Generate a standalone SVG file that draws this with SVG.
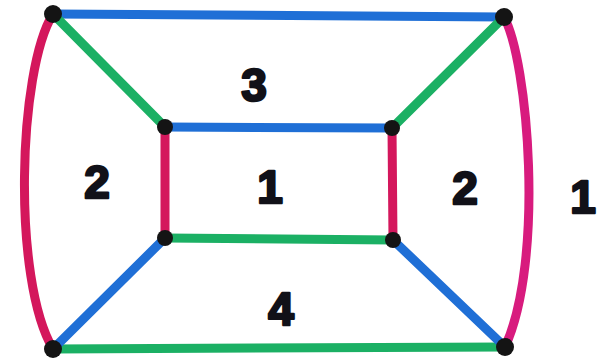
<svg xmlns="http://www.w3.org/2000/svg" width="603" height="361" viewBox="0 0 603 361">
<style>
.e{fill:none;stroke-width:9;stroke-linecap:round}
.b{stroke:#1f6fd6}
.g{stroke:#1bb064}
.r{stroke:#d4175c}
.m{stroke:#d81b7e}
.v{fill:#141414}
.t{font-family:"Liberation Sans",Arial,sans-serif;font-weight:bold;font-size:46px;fill:#111118;stroke:#111118;stroke-width:2.5;stroke-linejoin:round;text-anchor:middle}
</style>
<rect width="603" height="361" fill="#ffffff"/>
<g id="connectors">
<line class="e b" x1="53" y1="14" x2="504" y2="17"/>
<line class="e g" x1="53" y1="349" x2="505" y2="347"/>
<path class="e r" d="M53,14 C18,70 12,280 53,349"/>
<path class="e m" d="M504,17 C528,60 545,260 505,347"/>
<line class="e g" x1="53" y1="14" x2="165" y2="127"/>
<line class="e g" x1="504" y1="17" x2="392" y2="128"/>
<line class="e b" x1="53" y1="349" x2="165" y2="238"/>
<line class="e b" x1="505" y1="347" x2="393" y2="240"/>
<line class="e b" x1="165" y1="127" x2="392" y2="128"/>
<line class="e r" x1="165" y1="127" x2="165" y2="238"/>
<line class="e r" x1="392" y1="128" x2="393" y2="240"/>
<line class="e g" x1="165" y1="238" x2="393" y2="240"/>
</g>
<g id="n1"><circle class="v" cx="53" cy="14" r="9"/></g>
<g id="n2"><circle class="v" cx="504" cy="17" r="9"/></g>
<g id="n3"><circle class="v" cx="53" cy="349" r="9"/></g>
<g id="n4"><circle class="v" cx="505" cy="347" r="9"/></g>
<g id="n5"><circle class="v" cx="165" cy="127" r="8"/></g>
<g id="n6"><circle class="v" cx="392" cy="128" r="8"/></g>
<g id="n7"><circle class="v" cx="165" cy="238" r="8"/></g>
<g id="n8"><circle class="v" cx="393" cy="240" r="8"/></g>
<g id="labels">
<text class="t" x="254" y="101">3</text>
<text class="t" x="97" y="198">2</text>
<text class="t" x="270" y="203">1</text>
<text class="t" x="465" y="204">2</text>
<text class="t" x="583" y="213">1</text>
<text class="t" x="281" y="325">4</text>
</g>
</svg>
